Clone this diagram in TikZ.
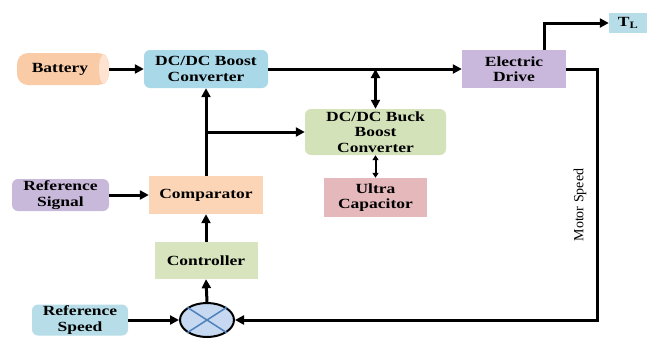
\documentclass[tikz,border=0pt]{standalone}
\usepackage{fontspec}
\setmainfont{Liberation Serif}[FakeStretch=1.25]
\newfontfamily\plainfont{Liberation Serif}
\usetikzlibrary{arrows.meta,shapes.geometric}
\definecolor{cBat}{HTML}{F9CBA7}
\definecolor{cBatEnd}{HTML}{FDE3D0}
\definecolor{cBoost}{HTML}{A9D8E8}
\definecolor{cDrive}{HTML}{C9B8DB}
\definecolor{cBB}{HTML}{D4E2BA}
\definecolor{cComp}{HTML}{FBD5B5}
\definecolor{cRef}{HTML}{C8B8DA}
\definecolor{cCtrl}{HTML}{D7E4BD}
\definecolor{cUC}{HTML}{E5B8BB}
\definecolor{cSpd}{HTML}{B7DDE8}
\definecolor{cSum}{HTML}{C6D9F1}
\definecolor{cCross}{HTML}{4F81BD}
\tikzset{
  blk/.style={draw=none, inner sep=0pt, align=center, font=\fontsize{14}{15.5}\selectfont\bfseries},
  rblk/.style={blk, rounded corners=6pt},
  wire/.style={line width=3pt},
  arr/.style={wire, -{Triangle[length=9pt,width=9pt]}},
  dbl/.style={wire, {Triangle[length=9pt,width=9pt]}-{Triangle[length=9pt,width=9pt]}},
  sdbl/.style={line width=2pt, {Triangle[length=5pt,width=6pt]}-{Triangle[length=5pt,width=6pt]}}
}
\begin{document}
\begin{tikzpicture}[x=1pt,y=-1pt]
\useasboundingbox (0,0) rectangle (649,338);
% nodes
\node[rblk, fill=cBat, rounded corners=11pt, minimum width=92pt, minimum height=32pt] (bat) at (63,69) {};
\fill[cBatEnd] (104,69) ellipse (5pt and 15pt);
\node[blk] (battxt) at (60,69) {Battery};
\node[rblk, fill=cBoost, minimum width=124pt, minimum height=38pt] (boost) at (206,69) {DC/DC Boost\\Converter};
\node[blk, fill=cDrive, minimum width=104pt, minimum height=38pt] (drive) at (514,69) {Electric\\Drive};
\node[rblk, fill=cBB, minimum width=141pt, minimum height=46pt] (bb) at (375.5,132) {DC/DC Buck\\Boost\\Converter};
\node[blk, fill=cUC, minimum width=103pt, minimum height=39pt] (uc) at (375.5,197.5) {Ultra\\Capacitor};
\node[blk, fill=cComp, minimum width=114pt, minimum height=38pt] (comp) at (206,195) {Comparator};
\node[rblk, fill=cRef, minimum width=97pt, minimum height=32pt] (ref) at (60.5,195) {Reference\\Signal};
\node[blk, fill=cCtrl, minimum width=103pt, minimum height=37pt] (ctrl) at (206,260.5) {Controller};
\node[rblk, fill=cSpd, minimum width=96pt, minimum height=31pt] (spd) at (80,320) {Reference\\Speed};
\node[blk, fill=cSpd, minimum width=38pt, minimum height=20pt] (tl) at (628,23) {T\textsubscript{L}};
\node[ellipse, draw=black, line width=2pt, fill=cSum, minimum width=54pt, minimum height=34pt, inner sep=0pt] (sum) at (207,320) {};
\draw[cCross, line width=1.5pt] (sum.north west) -- (sum.south east) (sum.north east) -- (sum.south west);
\node[font=\plainfont\fontsize{14}{15}\selectfont, rotate=90] (ms) at (580,205) {Motor Speed};
% connectors
\draw[arr] (bat.east) -- (boost.west);
\draw[arr] (boost.east) -- (drive.west);
\draw[dbl] (bb.north |- boost.east) -- (bb.north);
\draw[sdbl] (bb.south) -- (uc.north);
\draw[arr] (comp.north) -- (boost.south);
\coordinate (br) at (boost.south |- bb.west);
\draw[arr] (br) -- (bb.west);
\draw[arr] (ref.east) -- (comp.west);
\draw[arr] (ctrl.north) -- (comp.south);
\draw[arr] (sum.north) -- (ctrl.south);
\draw[arr] (spd.east) -- (sum.west);
\coordinate (c1) at (597,69);
\draw[arr] (drive.east) -- (c1) |- (sum.east);
\coordinate (t0) at (544,50);
\draw[arr] (t0) |- (tl.west);
\end{tikzpicture}
\end{document}
